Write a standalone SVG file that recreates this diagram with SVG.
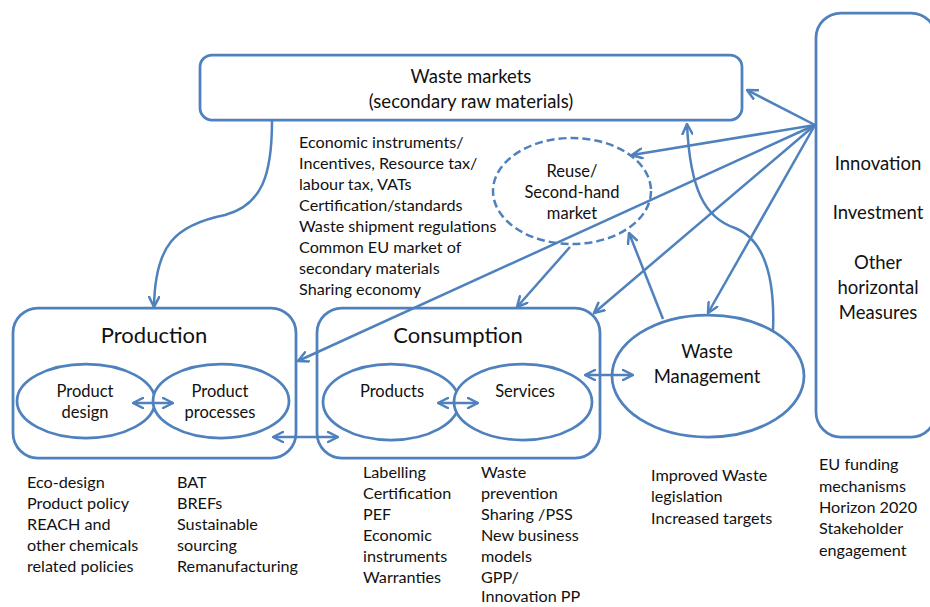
<svg xmlns="http://www.w3.org/2000/svg" width="930" height="607" viewBox="0 0 930 607">
<defs>
<marker id="ah" markerUnits="userSpaceOnUse" viewBox="0 0 12 12" markerWidth="12" markerHeight="12" refX="11" refY="6" orient="auto-start-reverse">
<path d="M1,1 L11,6 L1,11" fill="none" stroke="#4f81bd" stroke-width="2.5" stroke-linecap="round" stroke-linejoin="round"/>
</marker>
</defs>
<style>
.shape{fill:#fff;stroke:#4f81bd;stroke-width:2.75}
.dash{fill:#fff;stroke:#4f81bd;stroke-width:2.5;stroke-dasharray:8 4}
.c{fill:none;stroke:#4f81bd;stroke-width:2.5}
.a{marker-end:url(#ah)}
.d{marker-start:url(#ah);marker-end:url(#ah)}
text{font-family:Lato,"Liberation Sans",sans-serif;fill:#111}
.t{font-size:16.2px}
.m{text-anchor:middle}
.h1{font-size:22px}
.h2{font-size:18.5px}
.s{font-size:16.5px}
</style>
<rect width="930" height="607" fill="#fff"/>

<g id="waste-markets">
<rect class="shape" x="200" y="55" width="542" height="65" rx="12"/>
<text class="h2 m" x="471" y="83">Waste markets</text>
<text class="h2 m" x="471" y="108">(secondary raw materials)</text>
</g>

<g id="innovation">
<rect class="shape" x="816" y="13" width="120" height="424" rx="25"/>
<text class="h2 m" x="878" y="170">Innovation</text>
<text class="h2 m" x="878" y="219">Investment</text>
<text class="h2 m" x="878" y="269">Other</text>
<text class="h2 m" x="878" y="294">horizontal</text>
<text class="h2 m" x="878" y="319">Measures</text>
</g>

<g id="reuse">
<ellipse class="dash" cx="572" cy="191" rx="79" ry="53"/>
<text class="s m" x="572" y="177">Reuse/</text>
<text class="s m" x="572" y="198">Second-hand</text>
<text class="s m" x="572" y="219">market</text>
</g>

<g id="policy-text">
<text class="t" x="299" y="148">Economic instruments/</text>
<text class="t" x="299" y="169">Incentives, Resource tax/</text>
<text class="t" x="299" y="190">labour tax, VATs</text>
<text class="t" x="299" y="211">Certification/standards</text>
<text class="t" x="299" y="232">Waste shipment regulations</text>
<text class="t" x="299" y="253">Common EU market of</text>
<text class="t" x="299" y="274">secondary materials</text>
<text class="t" x="299" y="295">Sharing economy</text>
</g>

<g id="production">
<rect class="shape" x="13" y="308" width="283" height="150" rx="25"/>
<text class="h1 m" x="154" y="343">Production</text>
</g>
<g id="product-design">
<ellipse class="shape" cx="86" cy="401" rx="69" ry="37"/>
<text class="s m" x="85" y="397">Product</text>
<text class="s m" x="85" y="418">design</text>
</g>
<g id="product-processes">
<ellipse class="shape" cx="221" cy="401" rx="68" ry="37"/>
<text class="s m" x="220" y="397">Product</text>
<text class="s m" x="220" y="418">processes</text>
</g>

<g id="consumption">
<rect class="shape" x="317" y="308" width="283" height="150" rx="25"/>
<text class="h1 m" x="458" y="343">Consumption</text>
</g>
<g id="products">
<ellipse class="shape" cx="391" cy="402" rx="68" ry="38"/>
<text class="s m" x="392" y="397">Products</text>
</g>
<g id="services">
<ellipse class="shape" cx="523" cy="402" rx="69" ry="38"/>
<text class="s m" x="525" y="397">Services</text>
</g>

<g id="waste-management">
<ellipse class="shape" cx="708" cy="376" rx="96" ry="61"/>
<text class="h2 m" x="707" y="358">Waste</text>
<text class="h2 m" x="707" y="383">Management</text>
</g>

<g id="connectors">
<path class="c a" d="M815,125 L747,90"/>
<path class="c a" d="M815,125 L632,155"/>
<path class="c a" d="M815,125 L298,361"/>
<path class="c a" d="M815,125 L594,313"/>
<path class="c a" d="M815,125 L708,313"/>
<path class="c a" d="M570,247 L517,307"/>
<path class="c a" d="M663,319 L629,233"/>
<path class="c a" d="M773,331 C775,280 765,240 735,228 C705,218 690,190 687,124"/>
<path class="c a" d="M272,121 C272,175 262,205 225,215 C175,225 155,245 154,307"/>
<path class="c d" d="M273,437 L338,437"/>
<path class="c d" d="M133,403 L173,403"/>
<path class="c d" d="M438,403 L478,403"/>
<path class="c d" d="M585,375 L633,375"/>
</g>

<g id="bottom-text">
<text class="t" x="27" y="488">Eco-design</text>
<text class="t" x="27" y="509">Product policy</text>
<text class="t" x="27" y="530">REACH and</text>
<text class="t" x="27" y="551">other chemicals</text>
<text class="t" x="27" y="572">related policies</text>
<text class="t" x="177" y="488">BAT</text>
<text class="t" x="177" y="509">BREFs</text>
<text class="t" x="177" y="530">Sustainable</text>
<text class="t" x="177" y="551">sourcing</text>
<text class="t" x="177" y="572">Remanufacturing</text>
<text class="t" x="363" y="478">Labelling</text>
<text class="t" x="363" y="499">Certification</text>
<text class="t" x="363" y="520">PEF</text>
<text class="t" x="363" y="541">Economic</text>
<text class="t" x="363" y="562">instruments</text>
<text class="t" x="363" y="583">Warranties</text>
<text class="t" x="481" y="478">Waste</text>
<text class="t" x="481" y="499">prevention</text>
<text class="t" x="481" y="520">Sharing /PSS</text>
<text class="t" x="481" y="541">New business</text>
<text class="t" x="481" y="562">models</text>
<text class="t" x="481" y="583">GPP/</text>
<text class="t" x="481" y="602">Innovation PP</text>
<text class="t" x="651" y="481">Improved Waste</text>
<text class="t" x="651" y="502">legislation</text>
<text class="t" x="651" y="524">Increased targets</text>
<text class="t" x="819" y="470">EU funding</text>
<text class="t" x="819" y="492">mechanisms</text>
<text class="t" x="819" y="513">Horizon 2020</text>
<text class="t" x="819" y="534">Stakeholder</text>
<text class="t" x="819" y="556">engagement</text>
</g>
</svg>
